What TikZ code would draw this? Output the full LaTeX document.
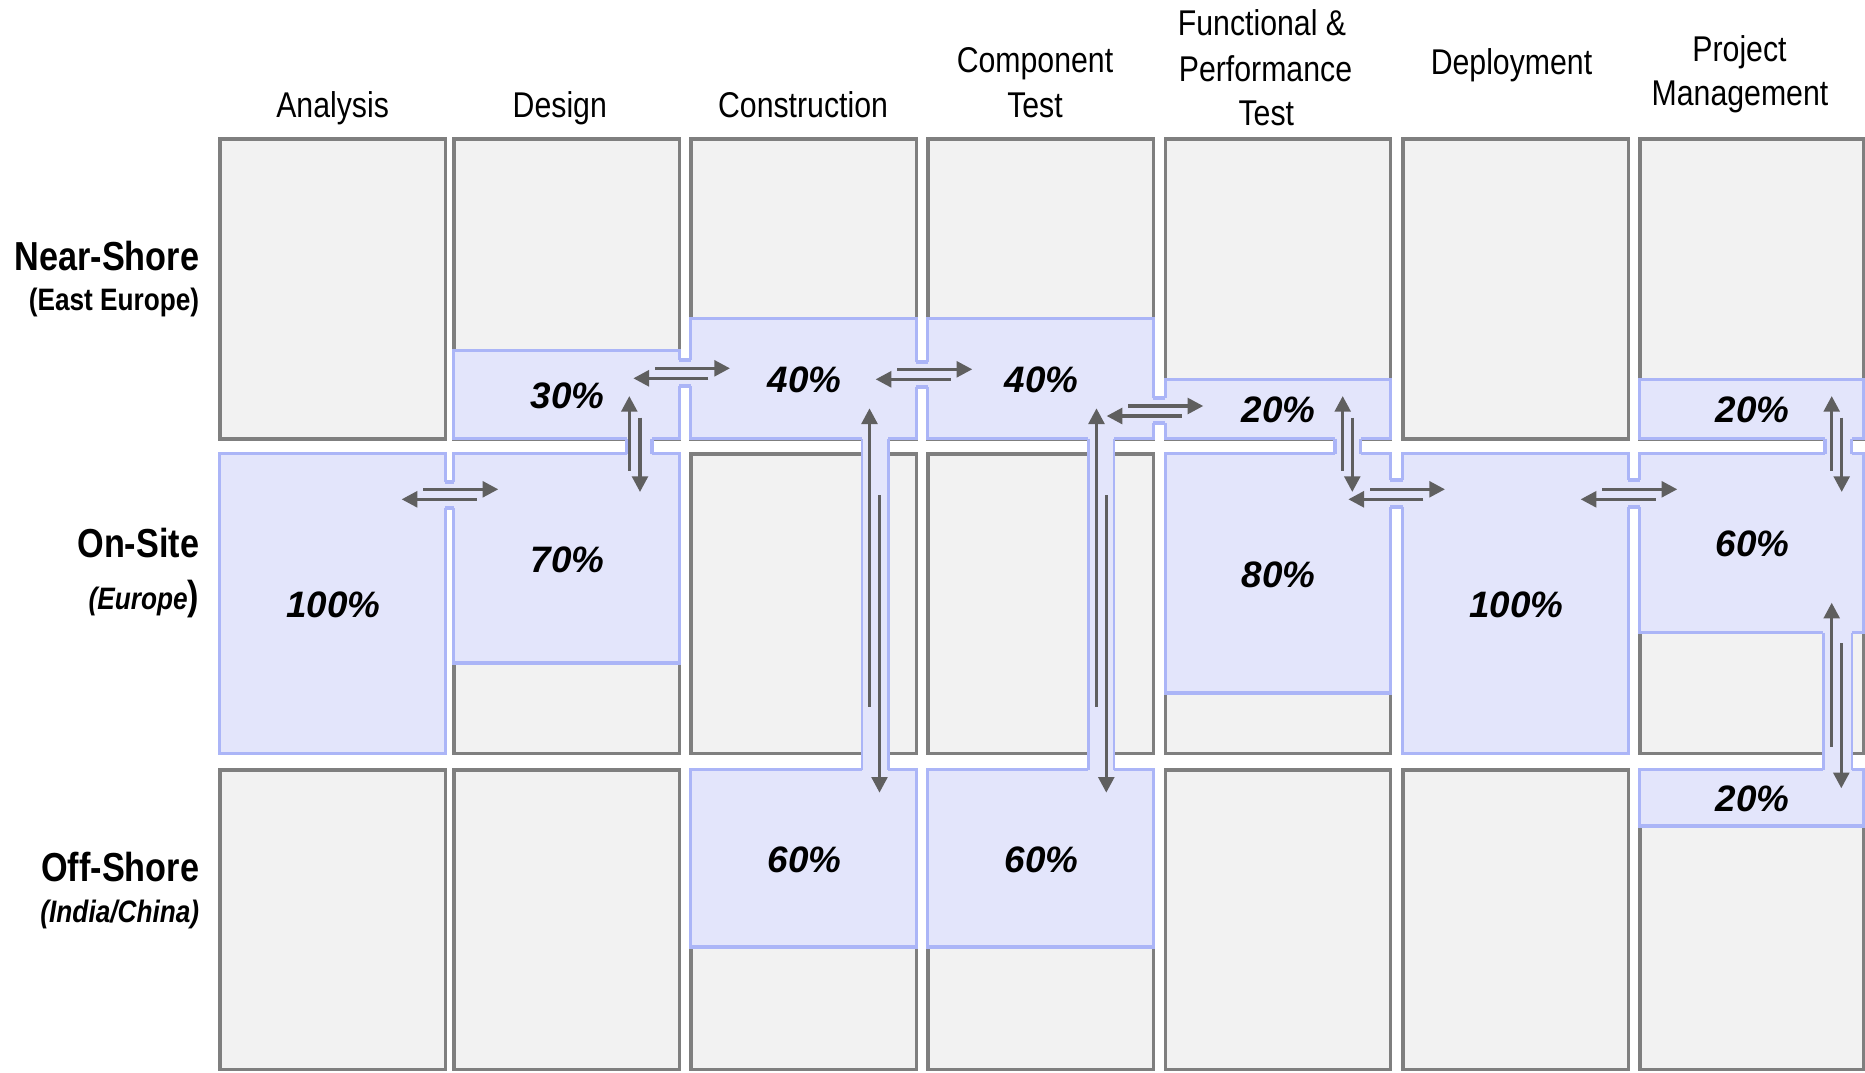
\documentclass[tikz,border=0pt]{standalone}
\usepackage{fontspec}
\setmainfont{Liberation Sans}
\newfontfamily\narrowfont{Liberation Sans}[FakeStretch=0.845]
\usetikzlibrary{arrows.meta}

\definecolor{cellfill}{HTML}{F2F2F2}
\definecolor{cellline}{HTML}{7F7F7F}
\definecolor{bluefill}{HTML}{E3E5FB}
\definecolor{blueline}{HTML}{ABB5F7}
\definecolor{arrowgray}{HTML}{5F5F5F}

\tikzset{
  gcell/.style={fill=cellfill, draw=cellline, line width=1.75pt},
  bcell/.style={fill=bluefill, draw=blueline, line width=1.7pt},
  bfill/.style={fill=bluefill},
  bedge/.style={draw=blueline, line width=1.7pt, line cap=square},
  sedge/.style={draw=blueline, line width=1.2pt},
  arr/.style={draw=arrowgray, line width=1.7pt, -{Triangle[length=7.85pt,width=7.85pt]}},
  pct/.style={font=\fontsize{18.4}{22}\selectfont\bfseries\itshape, inner sep=0pt},
  hdr/.style={font=\narrowfont\fontsize{17.9}{22}\selectfont, inner sep=0pt, anchor=base},
  rowmain/.style={font=\narrowfont\bfseries\fontsize{20.25}{24}\selectfont, inner sep=0pt, anchor=base east},
  rowsub/.style={font=\narrowfont\bfseries\fontsize{15.5}{19}\selectfont, inner sep=0pt, anchor=base east},
}

% blue share box with its percentage label
\newcommand{\sharebox}[6]{%
  \path[bcell] (#2,#3) rectangle (#4,#5);
  \node[pct] (#1) at ({(#2+#4)/2+1},{(#3+#5)/2+1}) {#6};}
% bridge across a column gap: xa = left border, xb = right border
\newcommand{\hbridge}[4]{%
  \path[bfill] (#1-1.9,#3) rectangle (#2+1.9,#4);
  \draw[bedge] (#1,#3) -- (#2,#3);
  \draw[bedge] (#1,#4) -- (#2,#4);}
% bridge across a row gap: ya = upper border, yb = lower border
\newcommand{\vbridge}[5]{%
  \path[bfill] (#1,#3-1.9) rectangle (#2,#4+1.9);
  \draw[#5] (#1,#3) -- (#1,#4);
  \draw[#5] (#2,#3) -- (#2,#4);}
% pair of opposite arrows
\newcommand{\duoarrow}[9]{%
  \coordinate (#1-a) at (#2,#3); \coordinate (#1-b) at (#4,#5);
  \coordinate (#1-c) at (#6,#7); \coordinate (#1-d) at (#8,#9);
  \draw[arr] (#1-a) -- (#1-b);
  \draw[arr] (#1-c) -- (#1-d);}

\begin{document}
\begin{tikzpicture}[x=0.5pt,y=-0.5pt]
\useasboundingbox (0,0) rectangle (1865,1072);

% grey grid of cells
\foreach \XL/\XR in {218/447, 452/681, 689/918, 926/1155, 1163.5/1392, 1401/1630, 1638/1865} {
  \foreach \YT/\YB in {138.75/438.75, 453.75/753.25, 769.75/1069.25} {
    \path[gcell] (\XL+1.75,\YT) rectangle (\XR-1.75,\YB);
  }
}

% shares
\sharebox{an2}{219.75}{453.75}{445.25}{753.25}{100\%}
\sharebox{de1}{453.75}{350.75}{679.25}{438.75}{30\%}
\sharebox{de2}{453.75}{453.75}{679.25}{663}{70\%}
\sharebox{co1}{690.75}{318.75}{916.25}{438.75}{40\%}
\sharebox{ct1}{927.75}{318.75}{1153.25}{438.75}{40\%}
\sharebox{co3}{690.75}{769.75}{916.25}{947}{60\%}
\sharebox{ct3}{927.75}{769.75}{1153.25}{947}{60\%}
\sharebox{fp1}{1165.25}{379.75}{1390.25}{438.75}{20\%}
\sharebox{fp2}{1165.25}{453.75}{1390.25}{693}{80\%}
\sharebox{dp2}{1402.75}{453.75}{1628.25}{753.25}{100\%}
\sharebox{pm1}{1639.75}{379.75}{1863.25}{438.75}{20\%}
\sharebox{pm2}{1639.75}{453.75}{1863.25}{632.5}{60\%}
\sharebox{pm3}{1639.75}{769.75}{1863.25}{826}{20\%}

% bridges across column gaps
\hbridge{445.25}{453.75}{482}{508}
\hbridge{679.25}{690.75}{360}{386}
\hbridge{916.25}{927.75}{362}{387}
\hbridge{1153.25}{1165.25}{398}{423}
\hbridge{1390.25}{1402.75}{480}{507}
\hbridge{1628.25}{1639.75}{480}{507}

% bridges across row gaps and long strips
\vbridge{627}{652}{438.75}{453.75}{bedge}
\vbridge{1335}{1360.7}{438.75}{453.75}{bedge}
\vbridge{1825}{1851.7}{438.75}{453.75}{bedge}
\vbridge{861.7}{888.3}{438.75}{769.75}{sedge}
\vbridge{1088.3}{1114}{438.75}{769.75}{sedge}
\vbridge{1823.3}{1851.7}{632.5}{769.75}{sedge}

% horizontal arrow pairs
\duoarrow{ad}{423.3}{489.3}{498.3}{489.3}{476.6}{499.3}{401.6}{499.3}
\duoarrow{dc}{655}{368.3}{730}{368.3}{708.3}{378.3}{633.3}{378.3}
\duoarrow{cct}{897.3}{369.3}{972.3}{369.3}{950.6}{379.3}{875.6}{379.3}
\duoarrow{ctf}{1128.3}{406}{1203.3}{406}{1181.6}{416}{1106.6}{416}
\duoarrow{fdp}{1370}{489.3}{1445}{489.3}{1423.3}{499.3}{1348.3}{499.3}
\duoarrow{dppm}{1602.3}{489.3}{1677.3}{489.3}{1655.6}{499.3}{1580.6}{499.3}

% vertical arrow pairs
\duoarrow{dv}{629.3}{470.5}{629.3}{396}{640}{417.5}{640}{492}
\duoarrow{fv}{1342.7}{470.5}{1342.7}{396}{1352.3}{417.5}{1352.3}{492}
\duoarrow{pv}{1831.7}{470.5}{1831.7}{396}{1841.7}{417.5}{1841.7}{492}
\duoarrow{cv}{869.5}{706.7}{869.5}{408.3}{879.5}{495}{879.5}{792.7}
\duoarrow{tv}{1096.5}{706.7}{1096.5}{408.3}{1106.3}{495}{1106.3}{792.7}
\duoarrow{pv2}{1831.7}{746.7}{1831.7}{602.7}{1841.3}{643.3}{1841.3}{788.3}

% column headers
\node[hdr] (h-an) at (332.6,117.3) {Analysis};
\node[hdr] (h-de) at (559.8,117.3) {Design};
\node[hdr] (h-co) at (803,117.3) {Construction};
\node[hdr] (h-ct1) at (1035,72.3) {Component};
\node[hdr] (h-ct2) at (1035,117.3) {Test};
\node[hdr] (h-fp1) at (1262,35) {Functional \&};
\node[hdr] (h-fp2) at (1265.5,81) {Performance};
\node[hdr] (h-fp3) at (1266.3,125) {Test};
\node[hdr] (h-dp) at (1511.5,74) {Deployment};
\node[hdr] (h-pm1) at (1739.5,61.7) {Project};
\node[hdr] (h-pm2) at (1740,105) {Management};

% row labels
\node[rowmain] (r-ns) at (199.5,270) {Near-Shore};
\node[rowsub] (r-ns2) at (199.5,310) {(East Europe)};
\node[rowmain] (r-os) at (199.5,557) {On-Site};
\node[rowsub] (r-os2) at (199.5,609) {\itshape (Europe\upshape\fontsize{20.25}{24}\selectfont)};
\node[rowmain] (r-of) at (199.5,881.5) {Off-Shore};
\node[rowsub] (r-of2) at (199.5,922) {\itshape (India/China)};
\end{tikzpicture}
\end{document}
